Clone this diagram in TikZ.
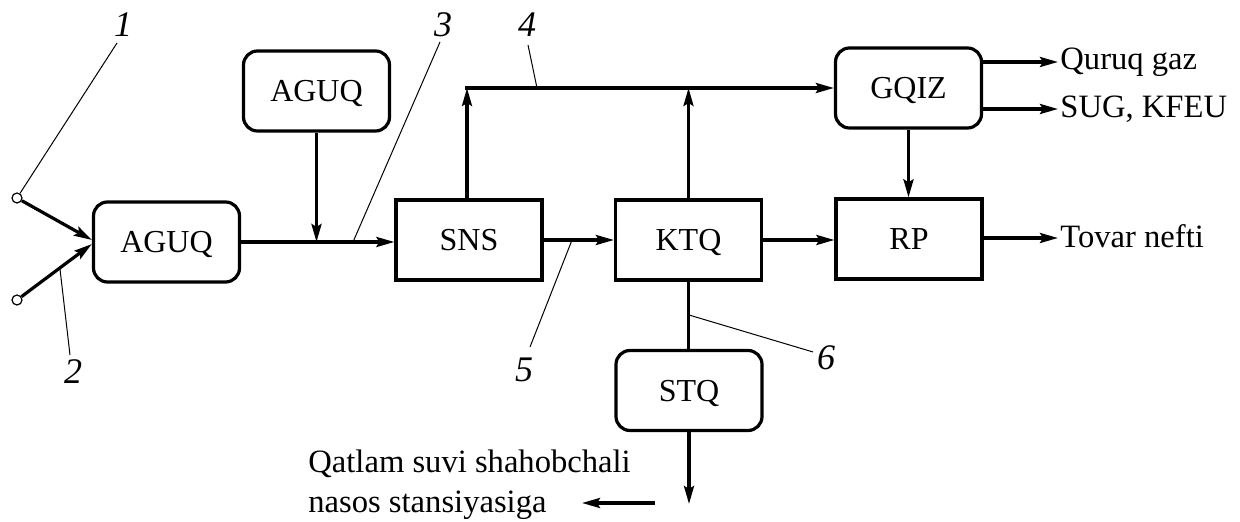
\documentclass[tikz,border=0pt]{standalone}
\usepackage{fontspec}
\setmainfont{Liberation Serif}
\usetikzlibrary{arrows.meta}
\begin{document}
\begin{tikzpicture}[x=0.5pt,y=-0.5pt,
  blk/.style={draw, line width=1.6pt, minimum width=73pt, minimum height=40pt, inner sep=0pt, text depth=0pt, font=\fontsize{16}{19}\selectfont},
  rblk/.style={blk, rounded corners=7pt},
  flow/.style={line width=1.6pt, -{Stealth[length=9pt,width=5pt,inset=1.5pt]}},
  pipe/.style={line width=1.6pt},
  leader/.style={line width=0.5pt},
  num/.style={font=\fontsize{18}{20}\selectfont\itshape, inner sep=0pt},
  outtext/.style={font=\fontsize{16.3}{19}\selectfont, inner sep=0pt, anchor=base west},
  port/.style={circle, draw, line width=0.6pt, fill=white, minimum size=5pt, inner sep=0pt}
]
\useasboundingbox (0,0) rectangle (1240,522);

% blocks
\node[rblk] (agu1) at (166.5,242) {AGUQ};
\node[rblk] (agu2) at (316.5,91) {AGUQ};
\node[blk] (sns) at (469,240) {SNS};
\node[blk] (ktq) at (688.5,240) {KTQ};
\node[blk] (rp) at (909,239) {RP};
\node[rblk] (gqiz) at (908.5,88) {GQIZ};
\node[rblk] (stq) at (689,390.5) {STQ};

% inputs
\node[port] (in1) at (17,198) {};
\node[port] (in2) at (17,300) {};
\draw[flow] (in1) -- ([yshift=1pt]agu1.west);
\draw[flow] (in2) -- ([yshift=-1pt]agu1.west);

% main line
\draw[flow] (agu1.east) -- (agu1.east -| sns.west);
\coordinate (j1) at (agu1.east -| agu2.south);
\draw[flow] (agu2.south) -- (j1);

% gas line 4
\coordinate (c4) at ([xshift=-1pt]sns.north |- gqiz.west);
\draw[flow] ([xshift=-1pt]sns.north) -- (c4);
\draw[flow] ([xshift=-0.8pt]c4) -- (gqiz.west);
\draw[flow] (ktq.north) -- (ktq.north |- gqiz.west);

% oil line
\draw[flow] (sns.east) -- (ktq.west);
\draw[flow] (ktq.east) -- (ktq.east -| rp.west);
\draw[flow] (gqiz.south) -- (gqiz.south |- rp.north);

% water line
\draw[pipe] (ktq.south) -- (ktq.south |- stq.north);
\coordinate (wend) at (689,504);
\draw[flow] (stq.south) -- (wend);
\coordinate (la1) at (655,503);
\coordinate (la2) at (582,503);
\draw[flow] (la1) -- (la2);

% outputs
\coordinate (o1) at (1058,62);
\coordinate (o2) at (1058,109);
\coordinate (o3) at (1058,238);
\draw[flow] (gqiz.east |- o1) -- (o1);
\draw[flow] (gqiz.east |- o2) -- (o2);
\draw[flow] (rp.east |- o3) -- (o3);
\node[outtext] (t1) at (1060,70) {Quruq gaz};
\node[outtext] (t2) at (1060,118) {SUG, KFEU};
\node[outtext] (t3) at (1060,248) {Tovar nefti};
\node[outtext] (q1) at (308,473) {Qatlam suvi shahobchali};
\node[outtext] (q2) at (308,513) {nasos stansiyasiga};

% number labels and leaders
\node[num] (n1) at (123,25) {1};
\node[num] (n2) at (73,372) {2};
\node[num] (n3) at (443,25) {3};
\node[num] (n4) at (527,25) {4};
\node[num] (n5) at (524,370) {5};
\node[num] (n6) at (826,358) {6};
\coordinate (l1a) at (117,43);
\coordinate (l2a) at (70,355); \coordinate (l2b) at (60,269);
\coordinate (l3a) at (440,42); \coordinate (l3b) at (353,242);
\coordinate (l4a) at (528,45); \coordinate (l4b) at (537,88);
\coordinate (l5a) at (530,347); \coordinate (l5b) at (572,240);
\coordinate (l6a) at (813,352); \coordinate (l6b) at (689,315);
\draw[leader] (l1a) -- (in1);
\draw[leader] (l2a) -- (l2b);
\draw[leader] (l3a) -- (l3b);
\draw[leader] (l4a) -- (l4b);
\draw[leader] (l5a) -- (l5b);
\draw[leader] (l6a) -- (l6b);
\end{tikzpicture}
\end{document}
